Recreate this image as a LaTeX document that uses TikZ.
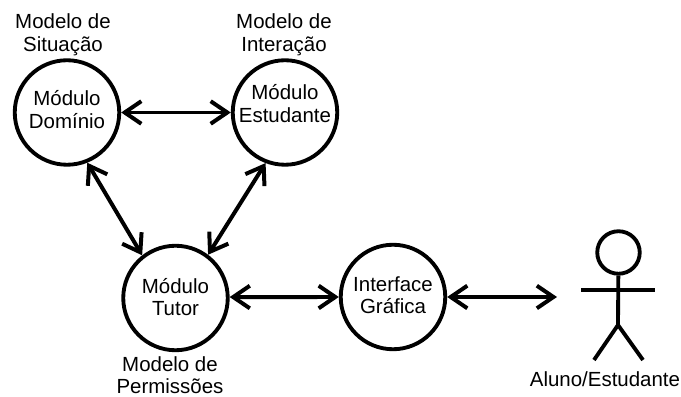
\documentclass[tikz,border=0pt]{standalone}
\usepackage{fontspec}
\setmainfont{Liberation Sans}
\usetikzlibrary{arrows.meta}
\newcommand{\twolines}[3]{\raisebox{#1}[0pt][0pt]{\begin{tabular}{@{}c@{}}#2\\#3\end{tabular}}}
\tikzset{
  modcircle/.style={circle,draw,line width=2.9pt,minimum size=2.765cm,inner sep=0pt,font=\fontsize{15.4}{17}\selectfont},
  lab/.style={align=center,font=\fontsize{15.4}{17}\selectfont,inner sep=0pt},
  barb/.tip={Straight Barb[length=12.5pt,width=17pt,line width=3pt]},
  link/.style={line width=3pt,barb-barb},
  fig/.style={line width=2.9pt}
}
\begin{document}
\begin{tikzpicture}[x=0.0264583cm,y=-0.0264583cm]
\useasboundingbox (0,0) rectangle (681,397);
\node[modcircle] (dom) at (67,112.5) {\twolines{-3.6pt}{Módulo}{Domínio}};
\node[modcircle] (est) at (285,112.5) {\twolines{1.1pt}{Módulo}{Estudante}};
\node[modcircle] (tut) at (175.5,298) {\twolines{-5.1pt}{Módulo}{Tutor}};
\node[modcircle] (ifc) at (393,297) {\twolines{-4.4pt}{Interface}{Gráfica}};
\node[lab] (l1) at (63,35) {Modelo de\\Situação};
\node[lab] (l2) at (284,35) {Modelo de\\Interação};
\node[lab] (l3) at (170,375) {Modelo de\\Permissões};
\node[lab] (l4) at (605,379) {Aluno/Estudante};
\coordinate (alupt) at (557,297);
\draw[link] (dom) -- (est);
\draw[link] (dom.-68) -- (tut.128);
\draw[link] (est.-111) -- (tut.53);
\draw[link] (tut.1) -- (ifc.180);
\draw[link] (ifc) -- (alupt);
\node[circle,draw,fig,minimum size=1.125cm,inner sep=0pt] (head) at (618.5,252.5) {};
\coordinate (hipcrd) at (618,325);
\coordinate (armleft) at (581,290);
\coordinate (armright) at (655,290);
\coordinate (footleft) at (594,360);
\coordinate (footright) at (643,360);
\draw[fig] (head) -- (hipcrd) -- (footleft);
\draw[fig] (hipcrd) -- (footright);
\draw[fig] (armleft) -- (armright);
\end{tikzpicture}
\end{document}
